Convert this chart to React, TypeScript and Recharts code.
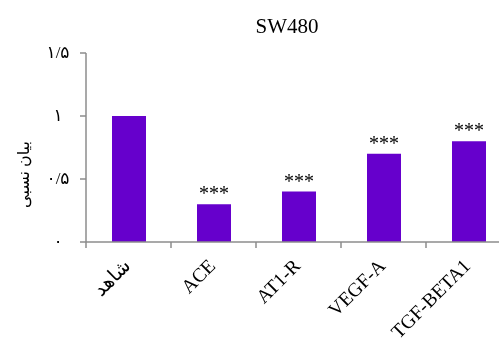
import React from "react";
import { BarChart, Bar, XAxis, YAxis, LabelList, Label } from "recharts";

const categories = ["شاهد", "ACE", "AT1-R", "VEGF-A", "TGF-BETA1"];
const values = [1.0, 0.3, 0.4, 0.7, 0.8];
const stars = ["", "***", "***", "***", "***"];
const yTicks = [0, 0.5, 1, 1.5];
const yTickLabels = ["۰", "۰/۵", "۱", "۱/۵"];
const title = "SW480";
const yTitle = "بیان نسبی";

const data = categories.map((name, i) => ({ name, value: values[i], star: stars[i] }));

const AXIS = "#8c8c8c";
const SERIF = "'Liberation Serif', 'Times New Roman', 'DejaVu Sans', serif";

const XTick = (props: any) => {
  const { x, y, payload, width, visibleTicksCount } = props;
  const band = width && visibleTicksCount ? width / visibleTicksCount : (payload.offset || 42.5) * 2;
  const lx = x - band / 2;
  const tx = x + 3;
  const ty = y + 19;
  return (
    <g>
      <line x1={lx} x2={lx} y1={y - 6} y2={y} stroke={AXIS} strokeWidth={1.5} />
      <text
        x={tx}
        y={ty}
        textAnchor="end"
        transform={`rotate(-45, ${tx}, ${ty})`}
        fontFamily={SERIF}
        fontSize={19.5}
        fill="#000"
      >
        {payload.value}
      </text>
    </g>
  );
};

const YTick = (props: any) => {
  const { x, y, payload } = props;
  const idx = yTicks.indexOf(payload.value);
  return (
    <text x={x - 20} y={y} dy={5} textAnchor="middle" fontFamily={SERIF} fontSize={17} fill="#000">
      {idx >= 0 ? yTickLabels[idx] : payload.value}
    </text>
  );
};

const StarLabel = (props: any) => {
  const { x, y, width, value } = props;
  if (!value) return null;
  return (
    <text x={x + width / 2} y={y - 4} textAnchor="middle" fontFamily={SERIF} fontSize={20} fill="#000">
      {value}
    </text>
  );
};

const YTitle = (props: any) => {
  const { viewBox } = props;
  const cx = viewBox.x + 15;
  const cy = viewBox.y + viewBox.height / 2 + 27;
  return (
    <text
      x={cx}
      y={cy}
      textAnchor="middle"
      dominantBaseline="central"
      transform={`rotate(-90, ${cx}, ${cy})`}
      fontFamily={SERIF}
      fontSize={16}
      fill="#000"
    >
      {yTitle}
    </text>
  );
};

export default function App() {
  return (
    <div style={{ position: "fixed", left: 8, top: 8, width: 491, height: 334, overflow: "hidden" }}>
      <BarChart
        width={513}
        height={334}
        data={data}
        margin={{ top: 45, right: 10, bottom: 10, left: 0 }}
        barSize={34}
      >
        <XAxis
          dataKey="name"
          interval={0}
          height={90}
          tickLine={false}
          tickSize={6}
          tickMargin={0}
          axisLine={{ stroke: AXIS, strokeWidth: 1.5 }}
          tick={<XTick />}
        />
        <YAxis
          width={78}
          domain={[0, 1.5]}
          ticks={yTicks}
          interval={0}
          tickSize={6}
          tickMargin={2}
          tickLine={{ stroke: AXIS, strokeWidth: 1.5 }}
          axisLine={{ stroke: AXIS, strokeWidth: 1.5 }}
          tick={<YTick />}
        >
          <Label content={<YTitle />} />
        </YAxis>
        <Bar dataKey="value" fill="#6600cc" isAnimationActive={false}>
          <LabelList dataKey="star" content={<StarLabel />} />
        </Bar>
      </BarChart>
      <svg
        width={491}
        height={40}
        style={{ position: "absolute", left: 0, top: 0, pointerEvents: "none" }}
      >
        <text x={279} y={25} textAnchor="middle" fontFamily={SERIF} fontSize={21} fill="#000">
          {title}
        </text>
      </svg>
    </div>
  );
}
